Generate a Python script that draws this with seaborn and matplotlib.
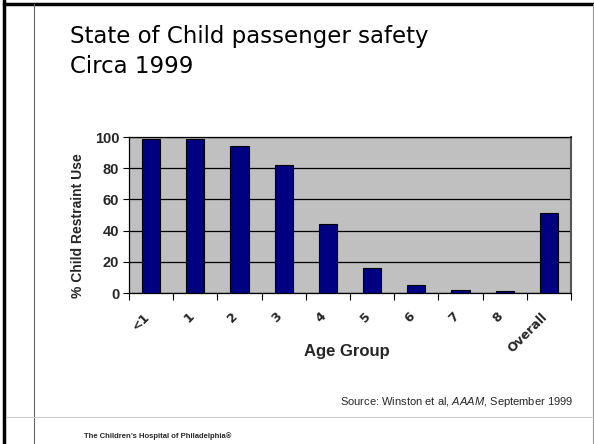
import matplotlib
matplotlib.use("Agg")
import matplotlib.pyplot as plt
import matplotlib.transforms as mtransforms
import seaborn as sns
import pandas as pd
from matplotlib.lines import Line2D

# data
age_groups = ["<1", "1", "2", "3", "4", "5", "6", "7", "8", "Overall"]
restraint_use = [99, 99, 94, 82, 44, 16, 5, 2, 1, 51]
y_ticks = [0, 20, 40, 60, 80, 100]

df = pd.DataFrame({"age": age_groups, "use": restraint_use})

sns.set_style("white")
plt.rcParams["font.family"] = ["DejaVu Sans"]
plt.rcParams["mathtext.fontset"] = "custom"
plt.rcParams["mathtext.rm"] = "Liberation Sans"
plt.rcParams["mathtext.it"] = "Liberation Sans:italic"

fig = plt.figure(figsize=(5.94, 4.44), dpi=100)

# slide decorations
fig.add_artist(Line2D([0.0075, 0.0075], [0, 1], color="black", lw=2.5))
fig.add_artist(Line2D([0.0075, 1], [0.9915, 0.9915], color="black", lw=2.5))
fig.add_artist(Line2D([34 / 594, 34 / 594], [0, 0.9915], color="#666666", lw=0.8))
fig.add_artist(Line2D([0.998, 0.998], [0, 0.9915], color="#999999", lw=0.8))
fig.add_artist(Line2D([0.01, 1], [1 - 417 / 444, 1 - 417 / 444], color="#cccccc", lw=0.8))

fig.text(70 / 594, 1 - 43 / 444, "State of Child passenger safety", fontsize=16.5,
         va="baseline", ha="left", color="black")
fig.text(70 / 594, 1 - 73 / 444, "Circa 1999", fontsize=16.5,
         va="baseline", ha="left", color="black")

ax = fig.add_axes([129 / 594, 1 - 293 / 444, 442 / 594, 156 / 444])
ax.set_facecolor("#c0c0c0")
sns.barplot(data=df, x="age", y="use", color="#000080", edgecolor="black",
            linewidth=0.8, width=0.41, saturation=1, ax=ax, zorder=3)

ax.set_ylim(0, 100)
ax.set_xlim(-0.5, len(age_groups) - 0.5)
ax.set_yticks(y_ticks)
ax.set_yticklabels([str(v) for v in y_ticks], fontfamily="Liberation Sans",
                   fontweight="bold", fontsize=10.5)
ax.yaxis.grid(True, color="black", lw=0.9, zorder=1)
ax.set_axisbelow(True)

ax.set_xticks(range(len(age_groups)))
ax.set_xticks([i - 0.5 for i in range(len(age_groups) + 1)], minor=True)
ax.tick_params(axis="x", which="major", length=0, pad=8)
ax.tick_params(axis="x", which="minor", length=5, width=0.8, direction="out",
               color="black", bottom=True)
ax.tick_params(axis="y", length=4, width=0.8, direction="out", color="black",
               left=True, pad=3)
ax.set_xticklabels(age_groups, rotation=45, ha="right", rotation_mode="anchor",
                   fontweight="bold", fontsize=9)
# nudge rotated labels left/down like the original slide
shift = mtransforms.ScaledTranslation(-8 / 100, -6 / 100, fig.dpi_scale_trans)
for lab in ax.get_xticklabels():
    lab.set_transform(lab.get_transform() + shift)

for side in ["left", "bottom", "top"]:
    ax.spines[side].set_color("black")
    ax.spines[side].set_linewidth(0.9)
ax.spines["right"].set_color("#555555")
ax.spines["right"].set_linewidth(1.5)

ax.set_xlabel("Age Group", fontfamily="Liberation Sans", fontweight="bold",
              fontsize=12, va="center")
ax.xaxis.set_label_coords(0.493, -0.378)
ax.set_ylabel("% Child Restraint Use", fontfamily="Liberation Sans",
              fontweight="bold", fontsize=10, va="center")
ax.yaxis.set_label_coords(-0.115, 0.43)

fig.text(573 / 594, 1 - 402 / 444, r"Source: Winston et al, $\it{AAAM}$, September 1999",
         fontfamily="Liberation Sans", fontsize=8, ha="right", va="center")
fig.text(84 / 594, 1 - 436 / 444, "The Children\u2019s Hospital of Philadelphia\u00ae",
         fontfamily="Liberation Sans", fontweight="bold", fontsize=5.5, ha="left",
         va="center")

fig.savefig("out.png", dpi=100)
